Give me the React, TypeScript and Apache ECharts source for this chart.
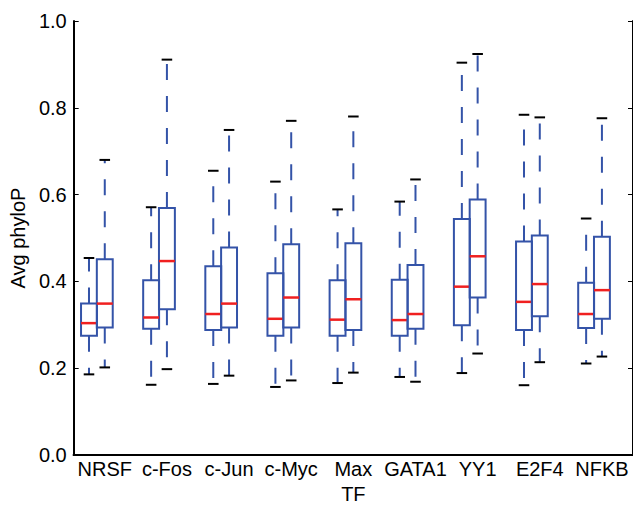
import React, { useEffect, useRef } from "react";
import * as echarts from "echarts";

const categories = ["NRSF", "c-Fos", "c-Jun", "c-Myc", "Max", "GATA1", "YY1", "E2F4", "NFKB"];
const yTicks = [0, 0.2, 0.4, 0.6, 0.8, 1.0];

// five-number summaries [min, Q1, median, Q3, max] — left box of each pair
const leftBoxes = [
  [0.186, 0.275, 0.304, 0.349, 0.454],
  [0.162, 0.291, 0.317, 0.403, 0.571],
  [0.164, 0.288, 0.325, 0.435, 0.655],
  [0.157, 0.275, 0.314, 0.419, 0.630],
  [0.166, 0.275, 0.312, 0.403, 0.566],
  [0.180, 0.275, 0.311, 0.404, 0.584],
  [0.189, 0.299, 0.388, 0.544, 0.904],
  [0.161, 0.288, 0.353, 0.492, 0.784],
  [0.211, 0.293, 0.325, 0.397, 0.545],
];
// right box of each pair
const rightBoxes = [
  [0.202, 0.294, 0.349, 0.451, 0.680],
  [0.198, 0.336, 0.447, 0.569, 0.911],
  [0.183, 0.294, 0.349, 0.478, 0.749],
  [0.172, 0.294, 0.363, 0.486, 0.770],
  [0.190, 0.288, 0.359, 0.488, 0.780],
  [0.169, 0.291, 0.325, 0.438, 0.635],
  [0.234, 0.363, 0.458, 0.589, 0.924],
  [0.214, 0.320, 0.394, 0.506, 0.778],
  [0.227, 0.314, 0.380, 0.503, 0.776],
];

const BLUE = "#3453a8";
const RED = "#f02020";
const FONT = "Liberation Sans";
const FS = 20;

function makeRender(offsetFrac: number) {
  return (params: any, api: any) => {
    const idx = api.value(0);
    const band = api.size([1, 0])[0];
    const cx = api.coord([idx, 0])[0] + offsetFrac * band;
    const half = band * 0.128;
    const capHalf = band * 0.085;
    const y = (d: number) => api.coord([idx, api.value(d)])[1];
    const yMin = y(1), yQ1 = y(2), yMed = y(3), yQ3 = y(4), yMax = y(5);
    const dash = { stroke: BLUE, lineWidth: 2, lineDash: [16, 16], fill: null };
    return {
      type: "group",
      children: [
        { type: "line", shape: { x1: cx, y1: yQ3, x2: cx, y2: yMax }, style: dash },
        { type: "line", shape: { x1: cx, y1: yQ1, x2: cx, y2: yMin }, style: dash },
        { type: "line", shape: { x1: cx - capHalf, y1: yMax, x2: cx + capHalf, y2: yMax }, style: { stroke: "#000", lineWidth: 2 } },
        { type: "line", shape: { x1: cx - capHalf, y1: yMin, x2: cx + capHalf, y2: yMin }, style: { stroke: "#000", lineWidth: 2 } },
        { type: "rect", shape: { x: cx - half, y: yQ3, width: 2 * half, height: yQ1 - yQ3 }, style: { stroke: BLUE, lineWidth: 2, fill: null } },
        { type: "line", shape: { x1: cx - half, y1: yMed, x2: cx + half, y2: yMed }, style: { stroke: RED, lineWidth: 2.5 } },
      ],
    };
  };
}

export default function App() {
  const ref = useRef<HTMLDivElement>(null);
  useEffect(() => {
    if (!ref.current) return;
    const chart = echarts.init(ref.current, null, { renderer: "svg" });
    const toData = (boxes: number[][]) => boxes.map((b, i) => [i, ...b]);
    chart.setOption({
      animation: false,
      backgroundColor: "#ffffff",
      grid: { left: 72.5, top: 21, width: 562, height: 437.5, containLabel: false },
      xAxis: [
        {
          type: "category",
          data: categories,
          position: "bottom",
          name: "TF",
          nameLocation: "middle",
          nameGap: 24,
          nameTextStyle: { fontFamily: FONT, fontSize: FS, color: "#000" },
          axisLine: { lineStyle: { color: "#000", width: 2 } },
          axisTick: { inside: true, alignWithLabel: true, length: 5, lineStyle: { color: "#000", width: 1 } },
          axisLabel: { fontFamily: FONT, fontSize: FS, color: "#000", margin: 4, interval: 0 },
          splitLine: { show: false },
        },
        {
          type: "category",
          data: categories,
          position: "top",
          axisLine: { lineStyle: { color: "#000", width: 2 } },
          axisTick: { inside: true, alignWithLabel: true, length: 5, lineStyle: { color: "#000", width: 1 } },
          axisLabel: { show: false },
          splitLine: { show: false },
        },
      ],
      yAxis: [
        {
          type: "value",
          min: 0,
          max: 1,
          interval: 0.2,
          name: "Avg phyloP",
          nameLocation: "middle",
          nameGap: 42,
          nameTextStyle: { fontFamily: FONT, fontSize: FS, color: "#000" },
          axisLine: { show: true, lineStyle: { color: "#000", width: 2 } },
          axisTick: { show: true, inside: true, length: 5, lineStyle: { color: "#000", width: 1 } },
          axisLabel: {
            fontFamily: FONT,
            fontSize: FS,
            color: "#000",
            margin: 7,
            formatter: (v: number) => (yTicks.some((t) => Math.abs(t - v) < 1e-9) ? v.toFixed(1) : ""),
          },
          splitLine: { show: false },
        },
        {
          type: "value",
          min: 0,
          max: 1,
          interval: 0.2,
          position: "right",
          axisLine: { show: true, lineStyle: { color: "#000", width: 2 } },
          axisTick: { show: true, inside: true, length: 5, lineStyle: { color: "#000", width: 1 } },
          axisLabel: { show: false },
          splitLine: { show: false },
        },
      ],
      series: [
        {
          type: "custom",
          name: "left",
          xAxisIndex: 0,
          yAxisIndex: 0,
          data: toData(leftBoxes),
          encode: { x: 0, y: [1, 2, 3, 4, 5] },
          renderItem: makeRender(-0.254),
          clip: false,
        },
        {
          type: "custom",
          name: "right",
          xAxisIndex: 0,
          yAxisIndex: 0,
          data: toData(rightBoxes),
          encode: { x: 0, y: [1, 2, 3, 4, 5] },
          renderItem: makeRender(0),
          clip: false,
        },
      ],
    });
    return () => chart.dispose();
  }, []);
  return (
    <div
      ref={ref}
      style={{ position: "fixed", left: 0, top: 0, width: 633, height: 509, background: "#fff" }}
    />
  );
}
